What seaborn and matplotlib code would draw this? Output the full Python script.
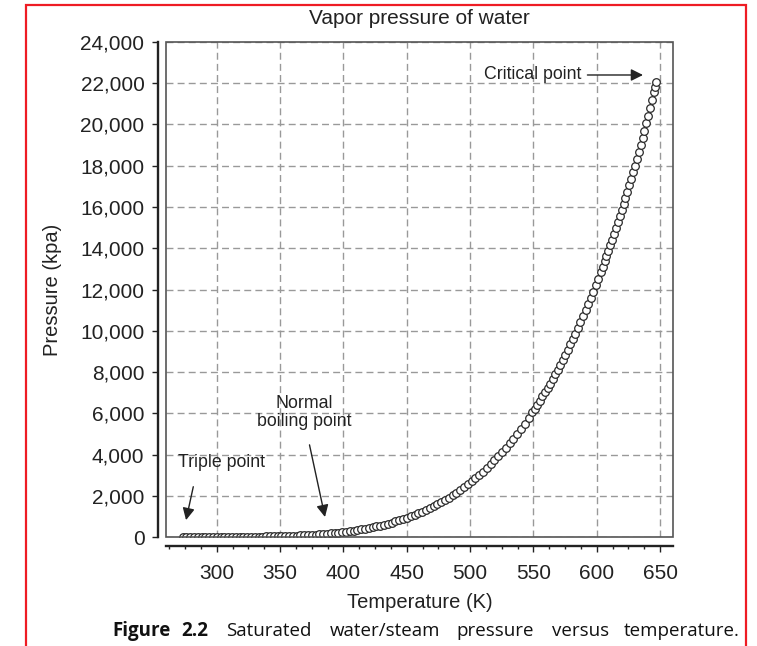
#!/usr/bin/env python3
import matplotlib
matplotlib.use("Agg")
import matplotlib.pyplot as plt
import seaborn as sns
import pandas as pd
from matplotlib.patches import Rectangle
from matplotlib.ticker import MultipleLocator, StrMethodFormatter

# saturation data (temperature in K, pressure in kPa)
temp_low_k = [273.16, 276.15, 279.15, 282.15, 285.15, 288.15, 291.15, 294.15, 297.15,
              300.15, 303.15, 306.15, 309.15, 312.15, 315.15, 318.15, 321.15, 324.15,
              327.15, 330.15, 333.15, 336.15, 339.15, 342.15, 345.15, 348.15, 351.15,
              354.15, 357.15, 360.15, 363.15, 366.15, 369.15, 372.15, 375.15, 378.15,
              381.15, 384.15, 387.15, 390.15, 393.15, 396.15, 399.15]
pres_low_kpa = [0.61, 0.76, 0.93, 1.15, 1.40, 1.71, 2.06, 2.49, 2.99,
                3.57, 4.25, 5.03, 5.95, 6.99, 8.20, 9.60, 11.2, 13.0,
                15.0, 17.3, 19.9, 22.9, 26.2, 29.9, 34.0, 38.6, 43.7,
                49.4, 55.7, 62.6, 70.2, 78.6, 87.8, 97.9, 108.9, 120.9,
                134.0, 148.3, 163.8, 180.5, 198.7, 218.3, 239.4]

temp_mid_k = [402.15, 405.15, 408.15, 411.15, 414.15, 417.15, 420.15, 423.15, 426.15,
              429.15, 432.15, 435.15, 438.15, 441.15, 444.15, 447.15, 450.15, 453.15,
              456.15, 459.15, 462.15, 465.15, 468.15, 471.15, 474.15, 477.15, 480.15,
              483.15, 486.15, 489.15, 492.15, 495.15, 498.15, 501.15, 504.15, 507.15,
              510.15, 513.15, 516.15, 519.15, 522.15, 525.15, 528.15, 531.15, 534.15,
              537.15, 540.15, 543.15, 546.15, 549.15]
pres_mid_kpa = [262.0, 286.7, 313.2, 341.6, 372.0, 404.4, 439.0, 476.2, 515.7,
                557.9, 602.8, 650.4, 700.9, 754.4, 811.3, 871.7, 935.3, 1002.8,
                1073.9, 1149.0, 1227.9, 1311.1, 1398.8, 1490.7, 1587.5, 1689.3, 1795.1,
                1907.7, 2024.5, 2147.5, 2276.0, 2410.0, 2549.7, 2696.5, 2849.0, 3008.4,
                3174.0, 3346.9, 3526.0, 3714.0, 3909.0, 4113.0, 4322.9, 4542.0, 4768.0,
                5005.0, 5250.0, 5503.0, 5766.0, 6039.0]

temp_high_k = [551.15, 553.15, 555.15, 557.15, 559.15, 561.15, 563.15, 565.15, 567.15,
               569.15, 571.15, 573.15, 575.15, 577.15, 579.15, 581.15, 583.15, 585.15,
               587.15, 589.15, 591.15, 593.15, 595.15, 597.15, 599.15, 601.15, 603.15]
pres_high_kpa = [6226, 6417, 6612, 6813, 7018, 7227, 7442, 7661, 7886,
                 8115, 8350, 8588, 8833, 9083, 9338, 9599, 9865, 10136,
                 10414, 10698, 10988, 11284, 11586, 11895, 12210, 12531, 12858]

temp_top_k = [604.65, 606.15, 607.65, 609.15, 610.65, 612.15, 613.65, 615.15, 616.65,
              618.15, 619.65, 621.15, 622.65, 624.15, 625.65, 627.15, 628.65, 630.15,
              631.65, 633.15, 634.65, 636.15, 637.65, 639.15, 640.65, 642.15, 643.65,
              645.15, 646.15, 647.10]
pres_top_kpa = [13109, 13364, 13621, 13880, 14151, 14420, 14695, 14974, 15257,
                15541, 15835, 16130, 16430, 16734, 17043, 17359, 17678, 18003,
                18332, 18666, 19007, 19352, 19702, 20059, 20422, 20793, 21171,
                21554, 21815, 22064]

x_ticks = [300, 350, 400, 450, 500, 550, 600, 650]
y_ticks = list(range(0, 24001, 2000))

df = pd.DataFrame({
    "temp": temp_low_k + temp_mid_k + temp_high_k + temp_top_k,
    "pressure": pres_low_kpa + pres_mid_kpa + pres_high_kpa + pres_top_kpa,
})

sns.set_theme(style="ticks")
plt.rcParams["font.family"] = ["Liberation Sans", "DejaVu Sans"]

ink = "#222222"
fig = plt.figure(figsize=(7.57, 6.46), dpi=100)
ax = fig.add_axes([0.2193, 0.1687, 0.6694, 0.7663])

sns.scatterplot(data=df, x="temp", y="pressure", ax=ax, marker="o", s=30,
                color="white", edgecolor="#2a2a2a", linewidth=0.9, zorder=3)

ax.set_xlim(260, 660)
ax.set_ylim(0, 24000)
ax.set_xticks(x_ticks)
ax.set_yticks(y_ticks)
ax.xaxis.set_minor_locator(MultipleLocator(12.5))
ax.yaxis.set_major_formatter(StrMethodFormatter("{x:,.0f}"))

ax.grid(True, which="major", ls=(0, (5, 3)), color="#999999", lw=1)
ax.set_axisbelow(True)

# detached thick axes plus a thin frame round the plot area
for side in ["top", "right"]:
    ax.spines[side].set_visible(False)
ax.spines["left"].set_position(("outward", 6))
ax.spines["bottom"].set_position(("outward", 6.5))
for side in ["left", "bottom"]:
    ax.spines[side].set_linewidth(1.7)
    ax.spines[side].set_color(ink)
ax.add_patch(Rectangle((0, 0), 1, 1, transform=ax.transAxes, fill=False,
                       ec="#555555", lw=1.2, clip_on=False, zorder=4))

ax.tick_params(axis="both", which="major", direction="out", length=4.5, width=1,
               colors=ink, labelsize=15)
ax.tick_params(axis="x", which="major", pad=8.5)
ax.tick_params(axis="y", which="major", pad=5)
ax.tick_params(axis="x", which="minor", direction="out", length=2.5, width=1, colors=ink)

ax.set_title("Vapor pressure of water", fontsize=15, color=ink, pad=13)
ax.set_xlabel("Temperature (K)", fontsize=14.5, color=ink)
ax.set_ylabel("Pressure (kpa)", fontsize=14.5, color=ink)
ax.xaxis.set_label_coords(0.5, -0.113)
ax.yaxis.set_label_coords(-0.205, 0.5)

arrow = dict(arrowstyle="-|>", color=ink, lw=1, mutation_scale=18, shrinkA=2, shrinkB=0)
ax.annotate("Critical point", xy=(636.5, 22400), xytext=(511, 22400),
            ha="left", va="center", fontsize=12.8, color=ink, arrowprops=arrow)
ax.text(269.5, 3590, "Triple point", ha="left", va="center", fontsize=12.8, color=ink)
ax.annotate("", xy=(275.8, 820), xytext=(282, 2570), arrowprops=arrow)
ax.text(368.9, 6040, "Normal\nboiling point", ha="center", va="center",
        fontsize=12.8, color=ink, linespacing=1.05)
ax.annotate("", xy=(385.5, 970), xytext=(372.8, 4600), arrowprops=arrow)

# caption under the chart, words placed like the scanned page
cap_y = 1 - 636 / 646
cap_font = ["Open Sans", "DejaVu Sans"]
for word, px in [("Figure", 112), ("2.2", 181)]:
    fig.text(px / 757, cap_y, word, fontsize=13.5, fontweight="bold",
             family=cap_font, color="#111111", va="baseline")
for word, px in [("Saturated", 226), ("water/steam", 330), ("pressure", 456),
                 ("versus", 552), ("temperature.", 624)]:
    fig.text(px / 757, cap_y, word, fontsize=13.5, family=cap_font,
             color="#111111", va="baseline")

# red page frame, open at the bottom edge
fig.patches.append(Rectangle((26 / 757, -0.05), (746 - 26) / 757, 1 - 5 / 646 + 0.05,
                             transform=fig.transFigure, fill=False,
                             ec="#ee1c24", lw=1.6))

fig.savefig("out.png", dpi=100)
plt.close(fig)
